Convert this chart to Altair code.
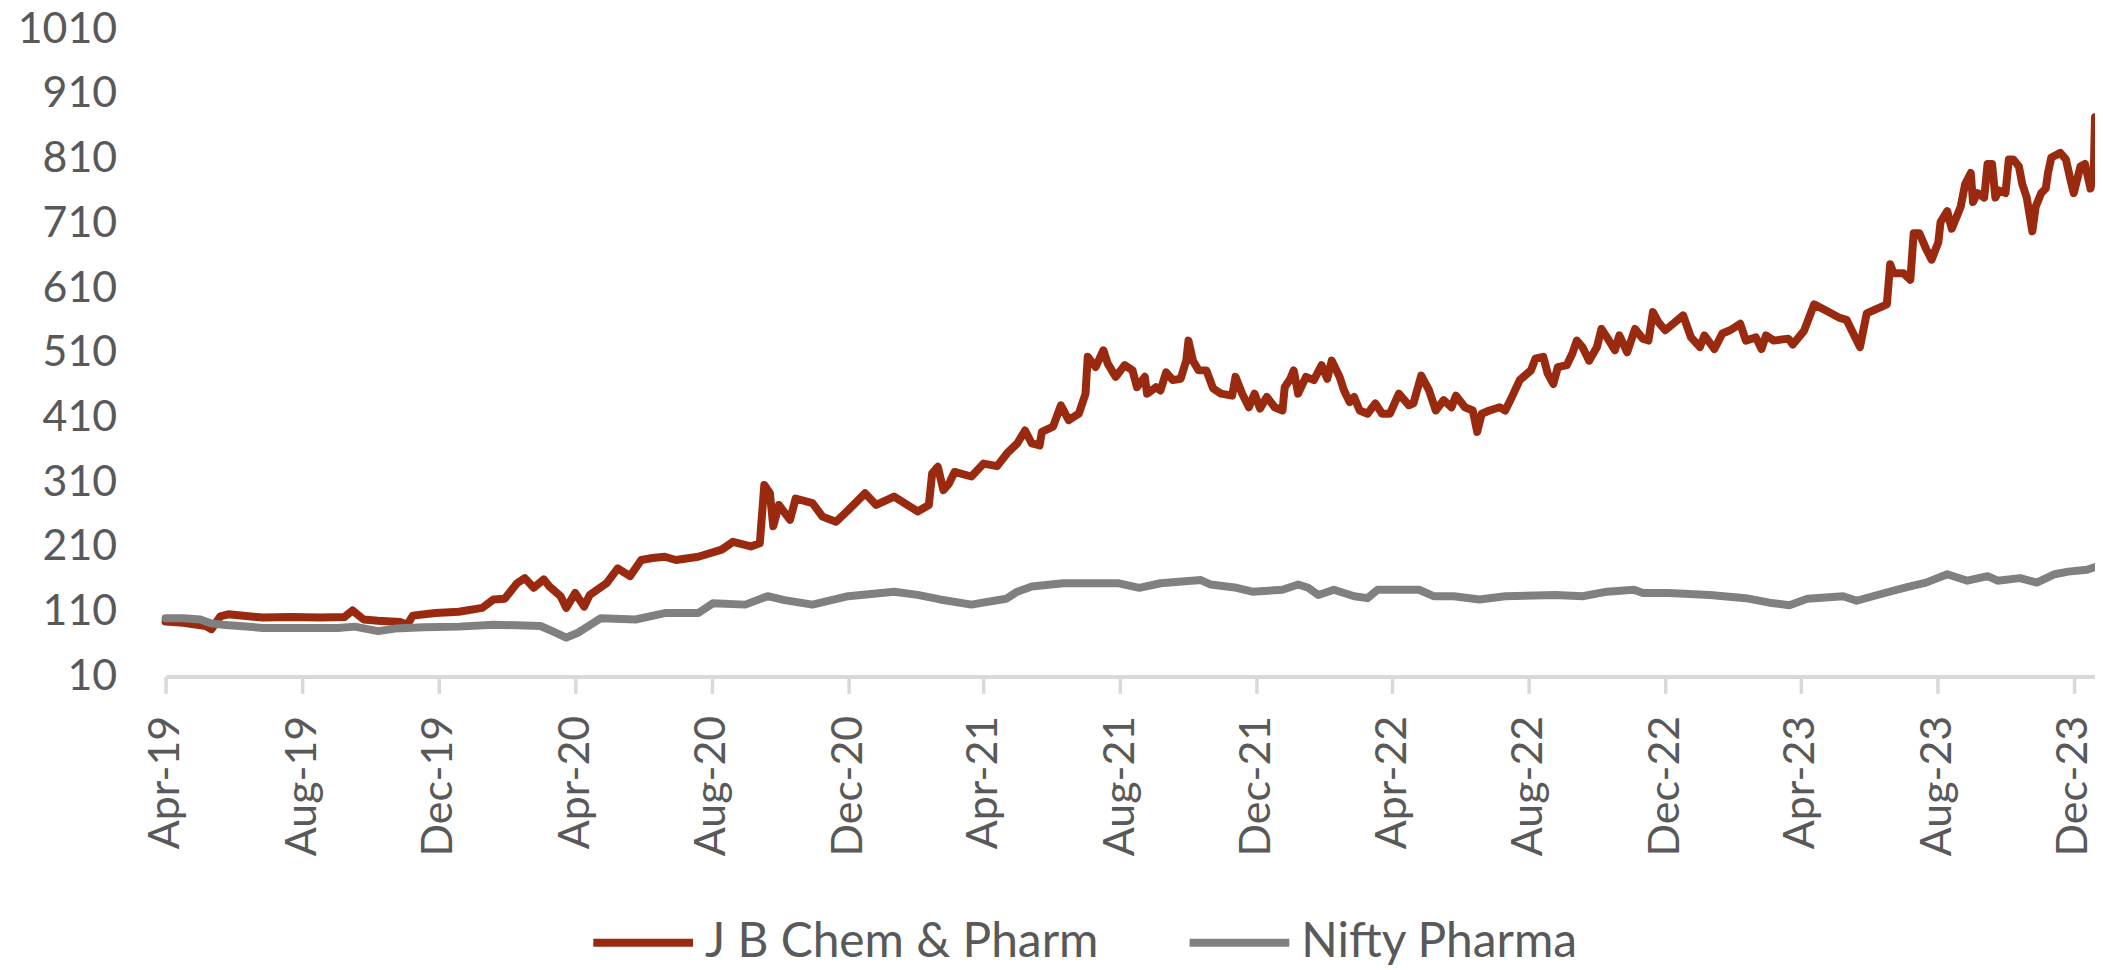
import altair as alt
import pandas as pd

# ---------------- data ----------------
series_names = ["J B Chem & Pharm", "Nifty Pharma"]
series_colors = ["#9A2A0F", "#808080"]

jb_dates = [
    "2019-04-01", "2019-04-17", "2019-05-07", "2019-05-12", "2019-05-20", "2019-05-27",
    "2019-06-27", "2019-07-22", "2019-08-17", "2019-09-08", "2019-09-15", "2019-09-25",
    "2019-10-08", "2019-10-28", "2019-11-03", "2019-11-08", "2019-11-28", "2019-12-19",
    "2020-01-09", "2020-01-19", "2020-01-29", "2020-02-09", "2020-02-16", "2020-02-24",
    "2020-03-04", "2020-03-09", "2020-03-19", "2020-03-24", "2020-04-01", "2020-04-09",
    "2020-04-14", "2020-04-29", "2020-05-09", "2020-05-20", "2020-05-30", "2020-06-09",
    "2020-06-20", "2020-06-30", "2020-07-20", "2020-08-10", "2020-08-20", "2020-09-05",
    "2020-09-13", "2020-09-17", "2020-09-22", "2020-09-25", "2020-09-30", "2020-10-10",
    "2020-10-15", "2020-10-30", "2020-11-08", "2020-11-20", "2020-12-01", "2020-12-16",
    "2020-12-26", "2021-01-11", "2021-02-01", "2021-02-11", "2021-02-14", "2021-02-19",
    "2021-02-24", "2021-03-01", "2021-03-06", "2021-03-21", "2021-04-01", "2021-04-13",
    "2021-04-22", "2021-05-01", "2021-05-08", "2021-05-14", "2021-05-21", "2021-05-23",
    "2021-06-02", "2021-06-09", "2021-06-16", "2021-06-25", "2021-07-01", "2021-07-03",
    "2021-07-10", "2021-07-17", "2021-07-21", "2021-07-28", "2021-08-05", "2021-08-12",
    "2021-08-16", "2021-08-23", "2021-08-25", "2021-09-02", "2021-09-06", "2021-09-11",
    "2021-09-17", "2021-09-24", "2021-09-29", "2021-10-01", "2021-10-05", "2021-10-10",
    "2021-10-17", "2021-10-23", "2021-10-30", "2021-11-09", "2021-11-12", "2021-11-18",
    "2021-11-24", "2021-11-29", "2021-12-04", "2021-12-10", "2021-12-17", "2021-12-24",
    "2021-12-26", "2021-12-31", "2022-01-03", "2022-01-07", "2022-01-14", "2022-01-21",
    "2022-01-28", "2022-02-02", "2022-02-06", "2022-02-13", "2022-02-17", "2022-02-22",
    "2022-02-26", "2022-03-03", "2022-03-10", "2022-03-17", "2022-03-23", "2022-03-30",
    "2022-04-07", "2022-04-11", "2022-04-16", "2022-04-20", "2022-04-27", "2022-05-04",
    "2022-05-10", "2022-05-17", "2022-05-24", "2022-05-28", "2022-06-05", "2022-06-12",
    "2022-06-16", "2022-06-20", "2022-06-27", "2022-07-06", "2022-07-11", "2022-07-17",
    "2022-07-24", "2022-08-03", "2022-08-07", "2022-08-14", "2022-08-18", "2022-08-23",
    "2022-08-27", "2022-09-04", "2022-09-09", "2022-09-13", "2022-09-18", "2022-09-24",
    "2022-10-01", "2022-10-05", "2022-10-10", "2022-10-17", "2022-10-21", "2022-10-28",
    "2022-11-04", "2022-11-11", "2022-11-16", "2022-11-20", "2022-11-25", "2022-12-01",
    "2022-12-08", "2022-12-17", "2022-12-24", "2023-01-01", "2023-01-05", "2023-01-14",
    "2023-01-21", "2023-01-28", "2023-02-06", "2023-02-11", "2023-02-20", "2023-02-25",
    "2023-03-01", "2023-03-08", "2023-03-21", "2023-03-25", "2023-04-04", "2023-04-13",
    "2023-04-24", "2023-05-06", "2023-05-12", "2023-05-18", "2023-05-24", "2023-05-30",
    "2023-06-08", "2023-06-17", "2023-06-20", "2023-06-23", "2023-07-02", "2023-07-08",
    "2023-07-11", "2023-07-16", "2023-07-22", "2023-07-27", "2023-08-02", "2023-08-04",
    "2023-08-10", "2023-08-14", "2023-08-22", "2023-08-26", "2023-08-31", "2023-09-02",
    "2023-09-06", "2023-09-12", "2023-09-15", "2023-09-19", "2023-09-22", "2023-09-25",
    "2023-10-01", "2023-10-04", "2023-10-08", "2023-10-13", "2023-10-16", "2023-10-20",
    "2023-10-25", "2023-10-28", "2023-11-02", "2023-11-06", "2023-11-08", "2023-11-11",
    "2023-11-19", "2023-11-24", "2023-11-28", "2023-12-01", "2023-12-07", "2023-12-11",
    "2023-12-16", "2023-12-19", "2023-12-20",
]
jb_values = [
    95, 93, 88, 83, 103, 106,
    101, 102, 101, 102, 112, 98,
    96, 94, 90, 104, 108, 110,
    116, 129, 130, 154, 162, 147,
    160, 149, 134, 116, 139, 118,
    136, 154, 177, 165, 190, 193,
    195, 190, 195, 206, 218, 211,
    216, 306, 293, 242, 275, 252,
    285, 278, 257, 249, 267, 293,
    275, 288, 265, 275, 324, 334,
    298, 308, 326, 319, 339, 335,
    355, 370, 390, 370, 367, 388,
    396, 429, 406, 416, 447, 504,
    488, 514, 493, 473, 491, 483,
    457, 473, 447, 457, 452, 480,
    468, 470, 498, 529, 498, 483,
    483, 455, 447, 444, 473, 447,
    426, 447, 424, 442, 426, 421,
    457, 470, 483, 447, 473, 468,
    491, 470, 498, 473, 452, 434,
    442, 421, 416, 432, 416, 416,
    447, 439, 429, 432, 475, 452,
    421, 437, 426, 444, 426, 421,
    388, 416, 421, 426, 421, 442,
    468, 483, 501, 504, 478, 462,
    488, 491, 509, 529, 519, 498,
    519, 547, 534, 514, 537, 511,
    547, 532, 529, 573, 557, 545,
    555, 568, 534, 519, 537, 516,
    540, 545, 555, 529, 534, 516,
    537, 529, 532, 523, 544, 585,
    575, 564, 561, 540, 519, 571,
    578, 585, 647, 633, 633, 623,
    695, 695, 671, 654, 681, 712,
    729, 702, 736, 771, 788, 743,
    757, 750, 802, 802, 750, 761,
    757, 809, 809, 798, 771, 750,
    698, 736, 757, 764, 788, 812,
    819, 809, 778, 757, 798, 802,
    764, 795, 874,
]

nifty_dates = [
    "2019-04-01", "2019-04-17", "2019-05-02", "2019-05-12", "2019-05-22", "2019-06-27",
    "2019-07-28", "2019-09-02", "2019-09-17", "2019-10-08", "2019-10-23", "2019-11-18",
    "2019-12-19", "2020-01-19", "2020-03-01", "2020-03-14", "2020-03-24", "2020-04-04",
    "2020-04-24", "2020-05-25", "2020-06-20", "2020-07-20", "2020-08-02", "2020-08-31",
    "2020-09-20", "2020-10-05", "2020-10-30", "2020-12-01", "2021-01-11", "2021-02-01",
    "2021-02-21", "2021-03-21", "2021-04-21", "2021-05-01", "2021-05-14", "2021-06-11",
    "2021-07-31", "2021-08-18", "2021-09-06", "2021-10-12", "2021-10-21", "2021-11-13",
    "2021-11-27", "2021-12-24", "2022-01-07", "2022-01-16", "2022-01-25", "2022-02-08",
    "2022-02-26", "2022-03-10", "2022-03-19", "2022-04-25", "2022-05-08", "2022-05-26",
    "2022-06-18", "2022-07-11", "2022-08-25", "2022-09-18", "2022-10-10", "2022-11-03",
    "2022-11-11", "2022-12-04", "2023-01-10", "2023-02-11", "2023-03-04", "2023-03-22",
    "2023-04-07", "2023-05-09", "2023-05-21", "2023-06-11", "2023-07-05", "2023-07-22",
    "2023-08-10", "2023-08-28", "2023-09-15", "2023-09-24", "2023-10-14", "2023-10-29",
    "2023-11-14", "2023-11-26", "2023-12-13", "2023-12-20",
]
nifty_values = [
    100, 100, 98, 92, 90, 85,
    85, 85, 87, 80, 84, 86,
    87, 90, 88, 78, 70, 78,
    100, 98, 108, 108, 123, 121,
    134, 128, 121, 134, 141, 136,
    129, 121, 130, 141, 149, 154,
    154, 147, 154, 159, 152, 147,
    141, 144, 152, 147, 136, 144,
    134, 131, 144, 144, 134, 134,
    129, 134, 136, 134, 141, 144,
    139, 139, 136, 131, 124, 120,
    130, 134, 127, 137, 148, 155,
    168, 158, 165, 158, 162, 155,
    168, 172, 175, 179,
]

x_tick_dates = [
    "2019-04-01", "2019-08-01", "2019-12-01", "2020-04-01", "2020-08-01",
    "2020-12-01", "2021-04-01", "2021-08-01", "2021-12-01", "2022-04-01",
    "2022-08-01", "2022-12-01", "2023-04-01", "2023-08-01", "2023-12-01",
]
x_domain = ["2019-04-01", "2023-12-20"]
y_ticks = [10, 110, 210, 310, 410, 510, 610, 710, 810, 910, 1010]

# ---------------- build table ----------------
df = pd.concat([
    pd.DataFrame({"date": jb_dates, "value": jb_values, "series": series_names[0]}),
    pd.DataFrame({"date": nifty_dates, "value": nifty_values, "series": series_names[1]}),
], ignore_index=True)


def to_dt(s):
    y, m, d = (int(p) for p in s.split("-"))
    return alt.DateTime(year=y, month=m, date=d, utc=True)


FONT = "Lato"
TXT = "#595959"
AXIS_GRAY = "#D9D9D9"

color = alt.Color(
    "series:N",
    scale=alt.Scale(domain=series_names, range=series_colors),
    legend=alt.Legend(
        orient="none", legendX=425, legendY=862, direction="horizontal",
        title=None, symbolType="stroke", symbolSize=10000, symbolStrokeWidth=8,
        labelFont=FONT, labelFontSize=48, labelColor=TXT, labelOffset=8,
        columnPadding=75, padding=0, labelLimit=0,
    ),
)

x = alt.X(
    "date:T",
    scale=alt.Scale(type="utc", domain=[to_dt(d) for d in x_domain]),
    axis=alt.Axis(
        title=None, values=[to_dt(d) for d in x_tick_dates],
        labelExpr="utcFormat(datum.value, '%b-%y')",
        labelAngle=270, labelFont=FONT, labelFontSize=43,
        labelColor=TXT, labelPadding=22, tickSize=17, tickWidth=3.5,
        tickColor=AXIS_GRAY, domainColor=AXIS_GRAY, domainWidth=4,
        grid=False, labelOverlap=False, labelFlush=False, labelLimit=0,
    ),
)
y = alt.Y(
    "value:Q",
    scale=alt.Scale(domain=[10, 1010], nice=False, zero=False),
    axis=alt.Axis(
        title=None, values=y_ticks, format="d", labelFont=FONT, labelFontSize=43,
        labelColor=TXT, labelPadding=49, ticks=False, tickSize=0,
        domain=False, grid=False,
    ),
)

base = alt.Chart(df).mark_line(strokeWidth=8, strokeJoin="round", strokeCap="round").encode(
    x=x, y=y, color=color
)

jb_layer = base.transform_filter(alt.datum.series == series_names[0])
nifty_layer = base.transform_filter(alt.datum.series == series_names[1])

chart = alt.layer(jb_layer, nifty_layer).properties(
    width=1935, height=649,
    autosize=alt.AutoSizeParams(type="none"),
    padding={"left": 158, "top": 20, "right": 0, "bottom": 293},
    background="white",
).configure(font=FONT).configure_view(stroke="transparent", strokeWidth=0)

chart.save("out.html", embed_options={"renderer": "svg", "actions": False})
